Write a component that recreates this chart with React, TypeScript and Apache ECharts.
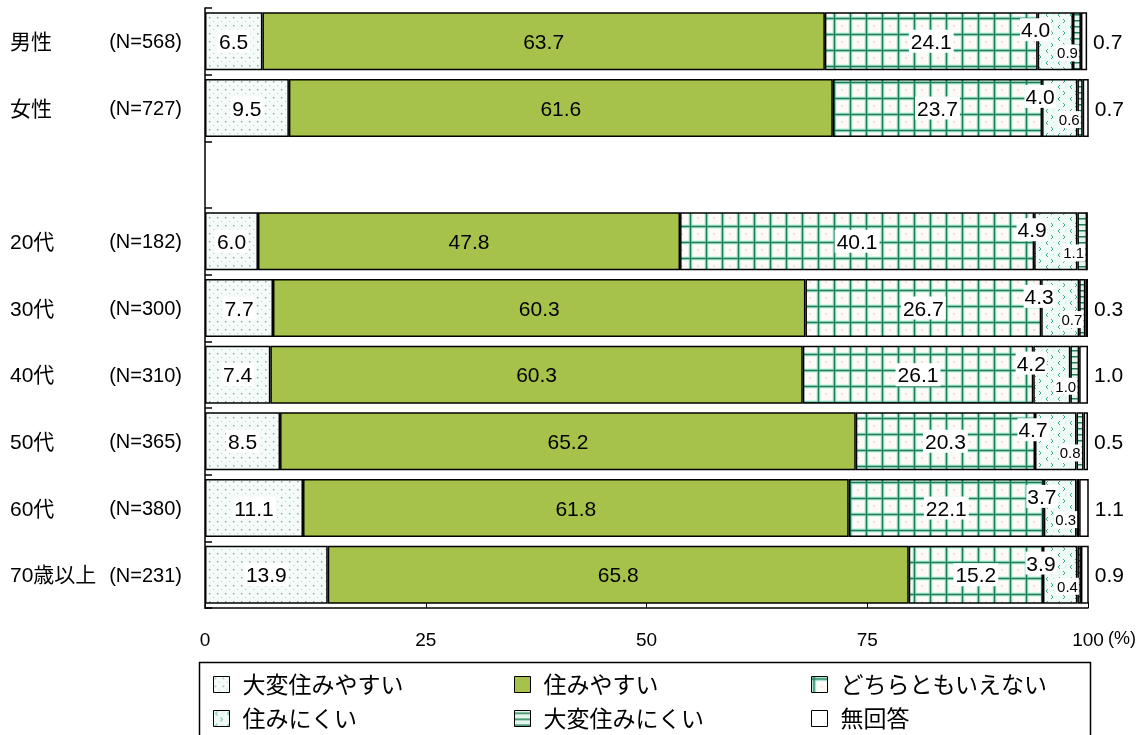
import React, { useEffect, useRef } from "react";
import * as echarts from "echarts";

const categories = ["男性", "女性", "", "20代", "30代", "40代", "50代", "60代", "70歳以上"];
const sampleSizes = ["568", "727", "", "182", "300", "310", "365", "380", "231"];
const seriesNames = ["大変住みやすい", "住みやすい", "どちらともいえない", "住みにくい", "大変住みにくい", "無回答"];
const veryEasy = [6.5, 9.5, null, 6.0, 7.7, 7.4, 8.5, 11.1, 13.9];
const easy = [63.7, 61.6, null, 47.8, 60.3, 60.3, 65.2, 61.8, 65.8];
const neither = [24.1, 23.7, null, 40.1, 26.7, 26.1, 20.3, 22.1, 15.2];
const hard = [4.0, 4.0, null, 4.9, 4.3, 4.2, 4.7, 3.7, 3.9];
const veryHard = [0.9, 0.6, null, 1.1, 0.7, 1.0, 0.8, 0.3, 0.4];
const noAnswer = [0.7, 0.7, null, 0.0, 0.3, 1.0, 0.5, 1.1, 0.9];
const xTicks = [0, 25, 50, 75, 100];

const FONT = '"Liberation Sans", Arial, "Noto Sans CJK JP", sans-serif';
const CJK = '"Liberation Sans", "Noto Sans CJK JP", sans-serif';

function makePattern(w: number, h: number, draw: (c: CanvasRenderingContext2D) => void) {
  const cv = document.createElement("canvas");
  cv.width = w;
  cv.height = h;
  const ctx = cv.getContext("2d") as CanvasRenderingContext2D;
  draw(ctx);
  return { image: cv.toDataURL(), repeat: "repeat", imageWidth: w, imageHeight: h } as any;
}

export default function App() {
  const ref = useRef<HTMLDivElement>(null);
  useEffect(() => {
    if (!ref.current) return;
    const chart = echarts.init(ref.current, null, { renderer: "svg" });

    const pVeryEasy = makePattern(8, 8, (c) => {
      c.fillStyle = "#f4fbf9";
      c.fillRect(0, 0, 8, 8);
      c.fillStyle = "#93aba3";
      c.fillRect(1, 1, 1.5, 1.5);
      c.fillStyle = "#c0d6cf";
      c.fillRect(5, 5, 1.2, 1.2);
    });
    const pNeither = makePattern(16, 16, (c) => {
      c.fillStyle = "#fefaf8";
      c.fillRect(0, 0, 16, 16);
      c.fillStyle = "#b5efe2";
      c.fillRect(0.5, 0, 4, 16);
      c.fillRect(0, 0.5, 16, 4);
      c.fillStyle = "#1e7e50";
      c.fillRect(1.7, 0, 1.6, 16);
      c.fillRect(0, 1.7, 16, 1.6);
      c.fillStyle = "#f1dcd9";
      c.fillRect(9, 9, 2, 2);
    });
    const pHard = makePattern(12, 12, (c) => {
      c.fillStyle = "#eefaf5";
      c.fillRect(0, 0, 12, 12);
      c.strokeStyle = "#4aa88c";
      c.lineWidth = 1;
      c.beginPath();
      c.moveTo(4, 1);
      c.lineTo(2, 3);
      c.lineTo(4, 5);
      c.moveTo(7, 7);
      c.lineTo(9, 9);
      c.lineTo(7, 11);
      c.stroke();
      c.fillStyle = "#efc9cf";
      c.fillRect(9, 2, 1, 1);
    });
    const pVeryHard = makePattern(6, 6, (c) => {
      c.fillStyle = "#e2f6ee";
      c.fillRect(0, 0, 6, 6);
      c.fillStyle = "#1f7f55";
      c.fillRect(0, 2, 6, 1.5);
    });

    const fmt = (p: any) => {
      const v = Array.isArray(p.value) ? p.value[0] : p.value;
      if (v == null || v === 0) return "";
      return Number(v).toFixed(1);
    };

    const base = {
      type: "bar",
      stack: "total",
      barWidth: "87%",
      itemStyle: { borderColor: "#000", borderWidth: 1.5 },
      emphasis: { disabled: true },
    };
    const bigLabel = { fontFamily: FONT, fontSize: 21, color: "#000", formatter: fmt };

    const series: any[] = [
      {
        ...base,
        name: seriesNames[0],
        data: veryEasy,
        itemStyle: { ...base.itemStyle, color: pVeryEasy },
        label: { show: true, position: "inside", ...bigLabel, backgroundColor: "#fff", padding: [1, 2] },
      },
      {
        ...base,
        name: seriesNames[1],
        data: easy,
        itemStyle: { ...base.itemStyle, color: "#a6c24a" },
        label: { show: true, position: "inside", ...bigLabel },
      },
      {
        ...base,
        name: seriesNames[2],
        data: neither,
        itemStyle: { ...base.itemStyle, color: pNeither },
        label: { show: true, position: "inside", ...bigLabel, backgroundColor: "#fff", padding: [1, 2] },
      },
      {
        ...base,
        name: seriesNames[3],
        data: hard,
        itemStyle: { ...base.itemStyle, color: pHard },
        label: {
          show: true,
          position: [0, "30%"],
          align: "center",
          verticalAlign: "middle",
          offset: [-2, 0],
          ...bigLabel,
          backgroundColor: "#fff",
          padding: [1, 1],
        },
      },
      {
        ...base,
        name: seriesNames[4],
        data: veryHard,
        itemStyle: { ...base.itemStyle, color: pVeryHard },
        label: {
          show: true,
          position: ["100%", "70%"],
          align: "right",
          verticalAlign: "middle",
          offset: [-2, 0],
          fontFamily: FONT,
          fontSize: 15,
          color: "#000",
          formatter: fmt,
          backgroundColor: "#fff",
          padding: [1, 1],
        },
      },
      {
        ...base,
        name: seriesNames[5],
        data: noAnswer,
        itemStyle: { ...base.itemStyle, color: "#fff" },
        label: { show: true, position: "right", distance: 6, ...bigLabel },
      },
    ];

    const legendCommon = {
      orient: "vertical",
      top: 673,
      height: 120,
      padding: 0,
      itemWidth: 16,
      itemHeight: 16,
      itemGap: 11,
      icon: "rect",
      selectedMode: false,
      textStyle: { fontFamily: CJK, fontSize: 23, lineHeight: 22, color: "#000", padding: [0, 0, 0, 8] },
      itemStyle: { borderColor: "#000", borderWidth: 1 },
    };

    chart.setOption({
      animation: false,
      grid: { left: 205, right: 55, top: 8, bottom: 127, containLabel: false },
      xAxis: {
        type: "value",
        min: xTicks[0],
        max: xTicks[xTicks.length - 1],
        interval: 25,
        axisLine: { show: true, lineStyle: { color: "#000", width: 1.5 } },
        axisTick: { show: true, inside: true, length: 6, lineStyle: { color: "#000", width: 1 } },
        splitLine: { show: false },
        axisLabel: { margin: 22, fontFamily: FONT, fontSize: 19, color: "#000" },
      },
      yAxis: {
        type: "category",
        inverse: true,
        data: categories,
        axisLine: { show: true, lineStyle: { color: "#000", width: 1.5 } },
        axisTick: { show: true, inside: true, length: 7, lineStyle: { color: "#000", width: 1.5 } },
        splitLine: { show: false },
        axisLabel: {
          margin: 23,
          formatter: (value: string, idx: number) =>
            value ? `{a|${value}}{b|(N=${sampleSizes[idx]})}` : "",
          rich: {
            a: { width: 95, align: "left", fontFamily: CJK, fontSize: 21, color: "#000" },
            b: { width: 77, align: "right", fontFamily: FONT, fontSize: 20, color: "#000" },
          },
        },
      },
      legend: [
        { ...legendCommon, left: 213, data: [seriesNames[0], seriesNames[3]] },
        { ...legendCommon, left: 514, data: [seriesNames[1], seriesNames[4]] },
        { ...legendCommon, left: 811, data: [seriesNames[2], seriesNames[5]] },
      ],
      graphic: [
        {
          type: "rect",
          left: 197,
          top: 660,
          shape: { width: 891, height: 120 },
          style: { fill: "none", stroke: "#000", lineWidth: 1.5 },
          silent: true,
        },
        {
          type: "text",
          left: 1108,
          top: 629,
          style: { text: "(%)", font: `18px ${FONT}`, fill: "#000" },
          silent: true,
        },
      ],
      series,
    });
    return () => chart.dispose();
  }, []);
  return <div ref={ref} style={{ position: "fixed", left: 0, top: 0, width: 1143, height: 735 }} />;
}
